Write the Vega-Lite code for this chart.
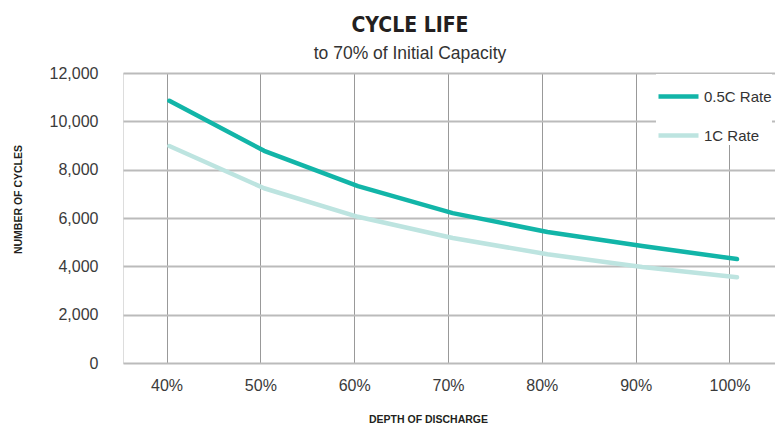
{
  "$schema": "https://vega.github.io/schema/vega-lite/v6.json",
  "width": 652,
  "height": 290,
  "autosize": {"type": "none"},
  "padding": {"left": 123, "top": 73, "right": 0, "bottom": 62},
  "background": "white",
  "title": {
    "text": "CYCLE LIFE",
    "subtitle": "to 70% of Initial Capacity",
    "anchor": "middle",
    "frame": "group",
    "dx": -39,
    "offset": 3,
    "font": "DejaVu Sans Condensed, Liberation Sans",
    "fontSize": 21,
    "fontWeight": "bold",
    "color": "#231f20",
    "subtitleFont": "Liberation Sans",
    "subtitleFontSize": 17.5,
    "subtitleColor": "#333333",
    "subtitlePadding": 9
  },
  "data": {
    "values": [
      {"dod": 40.3, "cycles": 10850, "rate": "0.5C Rate"},
      {"dod": 50.4, "cycles": 8780, "rate": "0.5C Rate"},
      {"dod": 60.4, "cycles": 7320, "rate": "0.5C Rate"},
      {"dod": 70.5, "cycles": 6200, "rate": "0.5C Rate"},
      {"dod": 80.6, "cycles": 5420, "rate": "0.5C Rate"},
      {"dod": 90.7, "cycles": 4840, "rate": "0.5C Rate"},
      {"dod": 100.8, "cycles": 4300, "rate": "0.5C Rate"},
      {"dod": 40.3, "cycles": 8980, "rate": "1C Rate"},
      {"dod": 50.4, "cycles": 7230, "rate": "1C Rate"},
      {"dod": 60.4, "cycles": 6050, "rate": "1C Rate"},
      {"dod": 70.5, "cycles": 5170, "rate": "1C Rate"},
      {"dod": 80.6, "cycles": 4500, "rate": "1C Rate"},
      {"dod": 90.7, "cycles": 3970, "rate": "1C Rate"},
      {"dod": 100.8, "cycles": 3550, "rate": "1C Rate"}
    ]
  },
  "mark": {"type": "line", "strokeWidth": 4.5, "strokeCap": "round", "strokeJoin": "round"},
  "encoding": {
    "x": {
      "field": "dod",
      "type": "quantitative",
      "scale": {"domain": [35.36, 104.85], "nice": false, "zero": false},
      "axis": {
        "values": [40, 50, 60, 70, 80, 90, 100],
        "labelExpr": "datum.value + '%'",
        "domain": false,
        "ticks": false,
        "grid": true,
        "gridColor": "#999999",
        "gridWidth": 1,
        "labelFont": "Liberation Sans",
        "labelFontSize": 16,
        "labelColor": "#3a3a3a",
        "labelPadding": 14,
        "title": "DEPTH OF DISCHARGE",
        "titleFont": "Liberation Sans",
        "titleFontSize": 10.5,
        "titleFontWeight": "bold",
        "titleColor": "#231f20",
        "titleX": 305,
        "titleY": 56,
        "titleAlign": "center",
        "titleBaseline": "middle"
      }
    },
    "y": {
      "field": "cycles",
      "type": "quantitative",
      "scale": {"domain": [0, 12000], "nice": false},
      "axis": {
        "values": [0, 2000, 4000, 6000, 8000, 10000, 12000],
        "format": ",.0f",
        "domain": false,
        "ticks": false,
        "grid": true,
        "gridColor": "#bbbbbb",
        "gridWidth": 2,
        "labelFont": "Liberation Sans",
        "labelFontSize": 16,
        "labelColor": "#3a3a3a",
        "labelPadding": 25,
        "title": "NUMBER OF CYCLES",
        "titleFont": "Liberation Sans",
        "titleFontSize": 10.5,
        "titleFontWeight": "bold",
        "titleColor": "#231f20",
        "titleAngle": -90,
        "titleX": -105,
        "titleY": 126,
        "titleAlign": "center",
        "titleBaseline": "middle"
      }
    },
    "color": {
      "field": "rate",
      "type": "nominal",
      "scale": {"domain": ["0.5C Rate", "1C Rate"], "range": ["#12b5a8", "#bde4e0"]},
      "legend": {
        "orient": "none",
        "legendX": 533,
        "legendY": 1,
        "title": null,
        "fillColor": "white",
        "symbolType": "stroke",
        "symbolSize": 1600,
        "symbolStrokeWidth": 4.5,
        "labelFont": "Liberation Sans",
        "labelFontSize": 15,
        "labelColor": "#333333",
        "labelOffset": 3,
        "padding": 0,
        "rowPadding": 7
      }
    }
  }
}
